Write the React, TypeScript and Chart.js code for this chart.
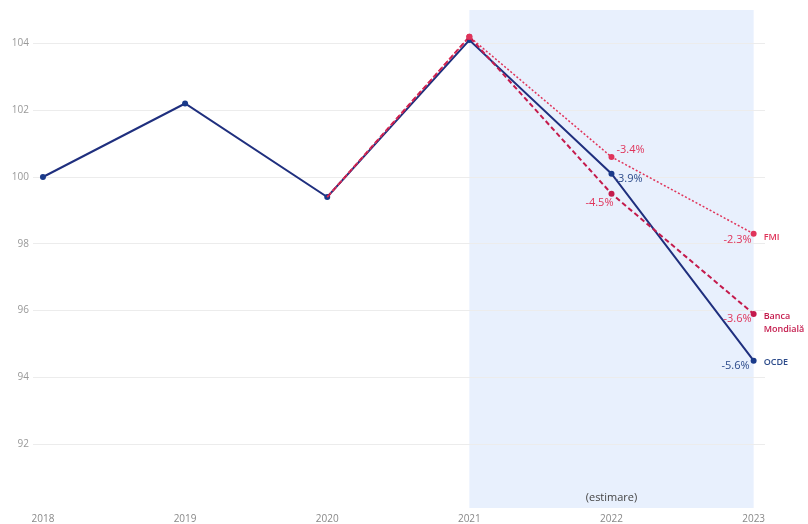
import React, { useEffect, useRef } from "react";
import { Chart, registerables } from "chart.js";

Chart.register(...registerables);

const years = [2018, 2019, 2020, 2021, 2022, 2023];
const yTicks = [92, 94, 96, 98, 100, 102, 104];
const ocdeValues = [100, 102.2, 99.4, 104.1, 100.1, 94.5];
const bmValues = [null, null, 99.4, 104.2, 99.5, 95.9];
const fmiValues = [null, null, 99.4, 104.2, 100.6, 98.3];
const ocdeLabels = [null, null, null, null, "-3.9%", "-5.6%"];
const bmLabels = [null, null, null, null, "-4.5%", "-3.6%"];
const fmiLabels = [null, null, null, null, "-3.4%", "-2.3%"];
const seriesNames = ["OCDE", "Banca Mondială", "FMI"];
const shadeFrom = 2021;
const shadeTo = 2023;
const shadeText = "(estimare)";

const NAVY = "#1f2f7e";
const CRIMSON = "#c41a4c";
const RED = "#e0345a";
const FONT = "'Open Sans', 'Noto Sans', sans-serif";

export default function App() {
  const ref = useRef<HTMLCanvasElement>(null);
  useEffect(() => {
    const ctx = ref.current!;
    const toPts = (vals: (number | null)[]) =>
      years.map((y, i) => ({ x: y, y: vals[i] })).filter((p) => p.y !== null);

    const shadePlugin = {
      id: "shade",
      beforeDraw(chart: any) {
        const { ctx, chartArea, scales } = chart;
        const x1 = scales.x.getPixelForValue(shadeFrom);
        const x2 = scales.x.getPixelForValue(shadeTo);
        ctx.save();
        ctx.fillStyle = "#e8f0fd";
        ctx.fillRect(x1, chartArea.top, x2 - x1, chartArea.bottom - 3 - chartArea.top);
        ctx.font = `11px ${FONT}`;
        ctx.fillStyle = "#444";
        ctx.textAlign = "center";
        ctx.textBaseline = "middle";
        ctx.fillText(shadeText, scales.x.getPixelForValue(2022), chartArea.bottom - 13);
        ctx.restore();
      },
    };

    const labelPlugin = {
      id: "labels",
      afterDatasetsDraw(chart: any) {
        const { ctx, scales } = chart;
        const X = (v: number) => scales.x.getPixelForValue(v);
        const Y = (v: number) => scales.y.getPixelForValue(v);
        ctx.save();
        ctx.textBaseline = "middle";
        ctx.font = `11px ${FONT}`;
        const pct = (
          vals: (number | null)[],
          labs: (string | null)[],
          color: string,
          opts: { [k: number]: [number, number, CanvasTextAlign] }
        ) => {
          ctx.fillStyle = color;
          labs.forEach((l, i) => {
            if (!l || vals[i] === null) return;
            const o = opts[i];
            ctx.textAlign = o[2];
            ctx.fillText(l, X(years[i]) + o[0], Y(vals[i] as number) + o[1]);
          });
        };
        pct(fmiValues, fmiLabels, RED, { 4: [5, -7, "left"], 5: [-2, 6, "right"] });
        pct(ocdeValues, ocdeLabels, "#2b4a8a", { 4: [3, 5, "left"], 5: [-4, 5, "right"] });
        pct(bmValues, bmLabels, RED, { 4: [2, 9, "right"], 5: [-2, 5, "right"] });

        ctx.font = `600 9px ${FONT}`;
        ctx.textAlign = "left";
        const xr = X(2023) + 10;
        ctx.fillStyle = RED;
        ctx.fillText(seriesNames[2], xr, Y(fmiValues[5] as number) + 4);
        ctx.fillStyle = CRIMSON;
        const bmParts = seriesNames[1].split(" ");
        ctx.fillText(bmParts[0], xr, Y(bmValues[5] as number) + 2);
        ctx.fillText(bmParts[1], xr, Y(bmValues[5] as number) + 15);
        ctx.fillStyle = "#2b4a8a";
        ctx.fillText(seriesNames[0], xr, Y(ocdeValues[5] as number) + 2);
        ctx.restore();
      },
    };

    const chart = new Chart(ctx, {
      type: "line",
      data: {
        datasets: [
          {
            label: seriesNames[2],
            data: toPts(fmiValues) as any,
            borderColor: RED,
            backgroundColor: RED,
            borderWidth: 1.5,
            borderDash: [2, 2],
            pointRadius: (c: any) => (c.raw.x === 2020 ? 0 : 3),
            pointBorderWidth: 0,
          },
          {
            label: seriesNames[1],
            data: toPts(bmValues) as any,
            borderColor: CRIMSON,
            backgroundColor: CRIMSON,
            borderWidth: 2,
            borderDash: [5, 3],
            pointRadius: (c: any) => (c.raw.x === 2020 ? 0 : 3),
            pointBorderWidth: 0,
          },
          {
            label: seriesNames[0],
            data: toPts(ocdeValues) as any,
            borderColor: NAVY,
            backgroundColor: "#1a3a8a",
            borderWidth: 2,
            pointRadius: 3,
            pointBorderWidth: 0,
          },
        ],
      },
      options: {
        animation: false,
        responsive: false,
        maintainAspectRatio: false,
        layout: { padding: { top: 8, right: 43, left: 0, bottom: 0 } },
        plugins: { legend: { display: false }, tooltip: { enabled: false } },
        scales: {
          x: {
            type: "linear",
            min: 2017.93,
            max: 2023.08,
            afterBuildTicks: (s: any) => {
              s.ticks = years.map((v) => ({ value: v }));
            },
            afterFit: (s: any) => {
              s.height = 13;
            },
            grid: { display: false, drawTicks: false },
            border: { display: false },
            ticks: {
              padding: 2,
              color: "#888",
              font: { family: FONT, size: 10 },
              maxRotation: 0,
              callback: (v: any) => String(v),
            },
          },
          y: {
            min: 90,
            max: 105,
            afterBuildTicks: (s: any) => {
              s.ticks = yTicks.map((v) => ({ value: v }));
            },
            afterFit: (s: any) => {
              s.width = 33;
            },
            grid: { color: "#ececec", drawTicks: false },
            border: { display: false },
            ticks: {
              padding: 4,
              color: "#999",
              font: { family: FONT, size: 10 },
            },
          },
        },
      },
      plugins: [shadePlugin, labelPlugin],
    } as any);
    return () => chart.destroy();
  }, []);
  return (
    <div style={{ position: "absolute", left: 0, top: 0, width: 808, height: 524, background: "#fff" }}>
      <canvas ref={ref} width={808} height={524} style={{ display: "block", width: 808, height: 524 }} />
    </div>
  );
}
